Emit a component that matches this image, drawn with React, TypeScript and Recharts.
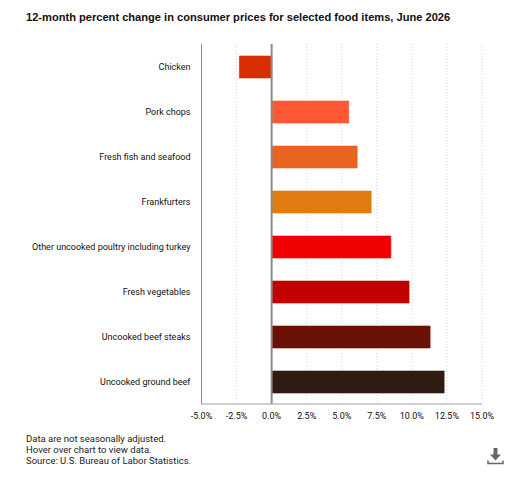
import React from 'react';
import { BarChart, Bar, Cell, XAxis, YAxis, CartesianGrid, ReferenceLine } from 'recharts';

const CATEGORIES = [
  'Chicken',
  'Pork chops',
  'Fresh fish and seafood',
  'Frankfurters',
  'Other uncooked poultry including turkey',
  'Fresh vegetables',
  'Uncooked beef steaks',
  'Uncooked ground beef',
];
const VALUES = [-2.3, 5.5, 6.1, 7.1, 8.5, 9.8, 11.3, 12.3];
const BAR_COLORS = ['#d92e00', '#ff5733', '#e8641f', '#e07b10', '#f00000', '#c20000', '#6b1005', '#2e1c12'];
const X_TICKS = [-5, -2.5, 0, 2.5, 5, 7.5, 10, 12.5, 15];
const NOTES = [
  'Data are not seasonally adjusted.',
  'Hover over chart to view data.',
  'Source: U.S. Bureau of Labor Statistics.',
];

const LABEL_FONT = 'Roboto, sans-serif';
const rows = CATEGORIES.map((name, i) => ({ name, value: VALUES[i] }));

// plain tick so the long poultry label stays on one line
const CategoryTick = ({ x, y, payload }: any) => (
  <text x={x} y={y} dx={6} dy={3} textAnchor="end" fontSize={9} fontFamily={LABEL_FONT} fill="#111">
    {payload.value}
  </text>
);

const App: React.FC = () => (
  <div style={{ position: 'absolute', left: 0, top: 0, width: 530, height: 479, background: '#fff', overflow: 'hidden' }}>
    <div
      style={{
        position: 'absolute',
        left: 26,
        top: 9,
        fontFamily: '"Liberation Sans", Arial, sans-serif',
        fontWeight: 'bold',
        fontSize: 11.1,
        lineHeight: '16px',
        color: '#111',
        whiteSpace: 'nowrap',
      }}
    >
      12-month percent change in consumer prices for selected food items, June 2026
    </div>

    <BarChart
      width={530}
      height={479}
      data={rows}
      layout="vertical"
      barSize={22}
      margin={{ top: 44, right: 48, bottom: 45, left: 0 }}
    >
      <CartesianGrid horizontal={false} stroke="#d8d8d8" strokeDasharray="1 2" />
      <XAxis
        type="number"
        domain={[-5, 15]}
        ticks={X_TICKS}
        interval={0}
        tickFormatter={(v: number) => `${v.toFixed(1)}%`}
        tick={{ fontSize: 9, fontFamily: LABEL_FONT, fill: '#111' }}
        tickLine={false}
        axisLine={{ stroke: '#a0a0a0' }}
        tickMargin={3}
        height={30}
      />
      <YAxis
        type="category"
        dataKey="name"
        width={201.5}
        interval={0}
        tick={CategoryTick}
        tickLine={false}
        axisLine={{ stroke: '#8c8c8c' }}
        tickMargin={11}
      />
      <Bar dataKey="value" isAnimationActive={false}>
        {rows.map((row, i) => (
          <Cell key={row.name} fill={BAR_COLORS[i]} stroke={BAR_COLORS[i]} strokeOpacity={0.6} />
        ))}
      </Bar>
      <ReferenceLine x={0} stroke="#8c8c8c" strokeWidth={2} />
    </BarChart>

    <div
      style={{
        position: 'absolute',
        left: 26,
        top: 433,
        fontFamily: LABEL_FONT,
        fontSize: 9.5,
        lineHeight: '11px',
        color: '#222',
        whiteSpace: 'nowrap',
      }}
    >
      {NOTES.map((line) => (
        <div key={line}>{line}</div>
      ))}
    </div>

    {/* export button */}
    <svg style={{ position: 'absolute', left: 486, top: 447 }} width={20} height={20} viewBox="0 0 20 20">
      <path d="M7.5 1h4v6.5h3.5l-5.5 6-5.500-6h3.500z" fill="#666" />
      <path d="M2 13.500v3h15v-3" fill="none" stroke="#666" strokeWidth={1.500} />
    </svg>
  </div>
);

export default App;
